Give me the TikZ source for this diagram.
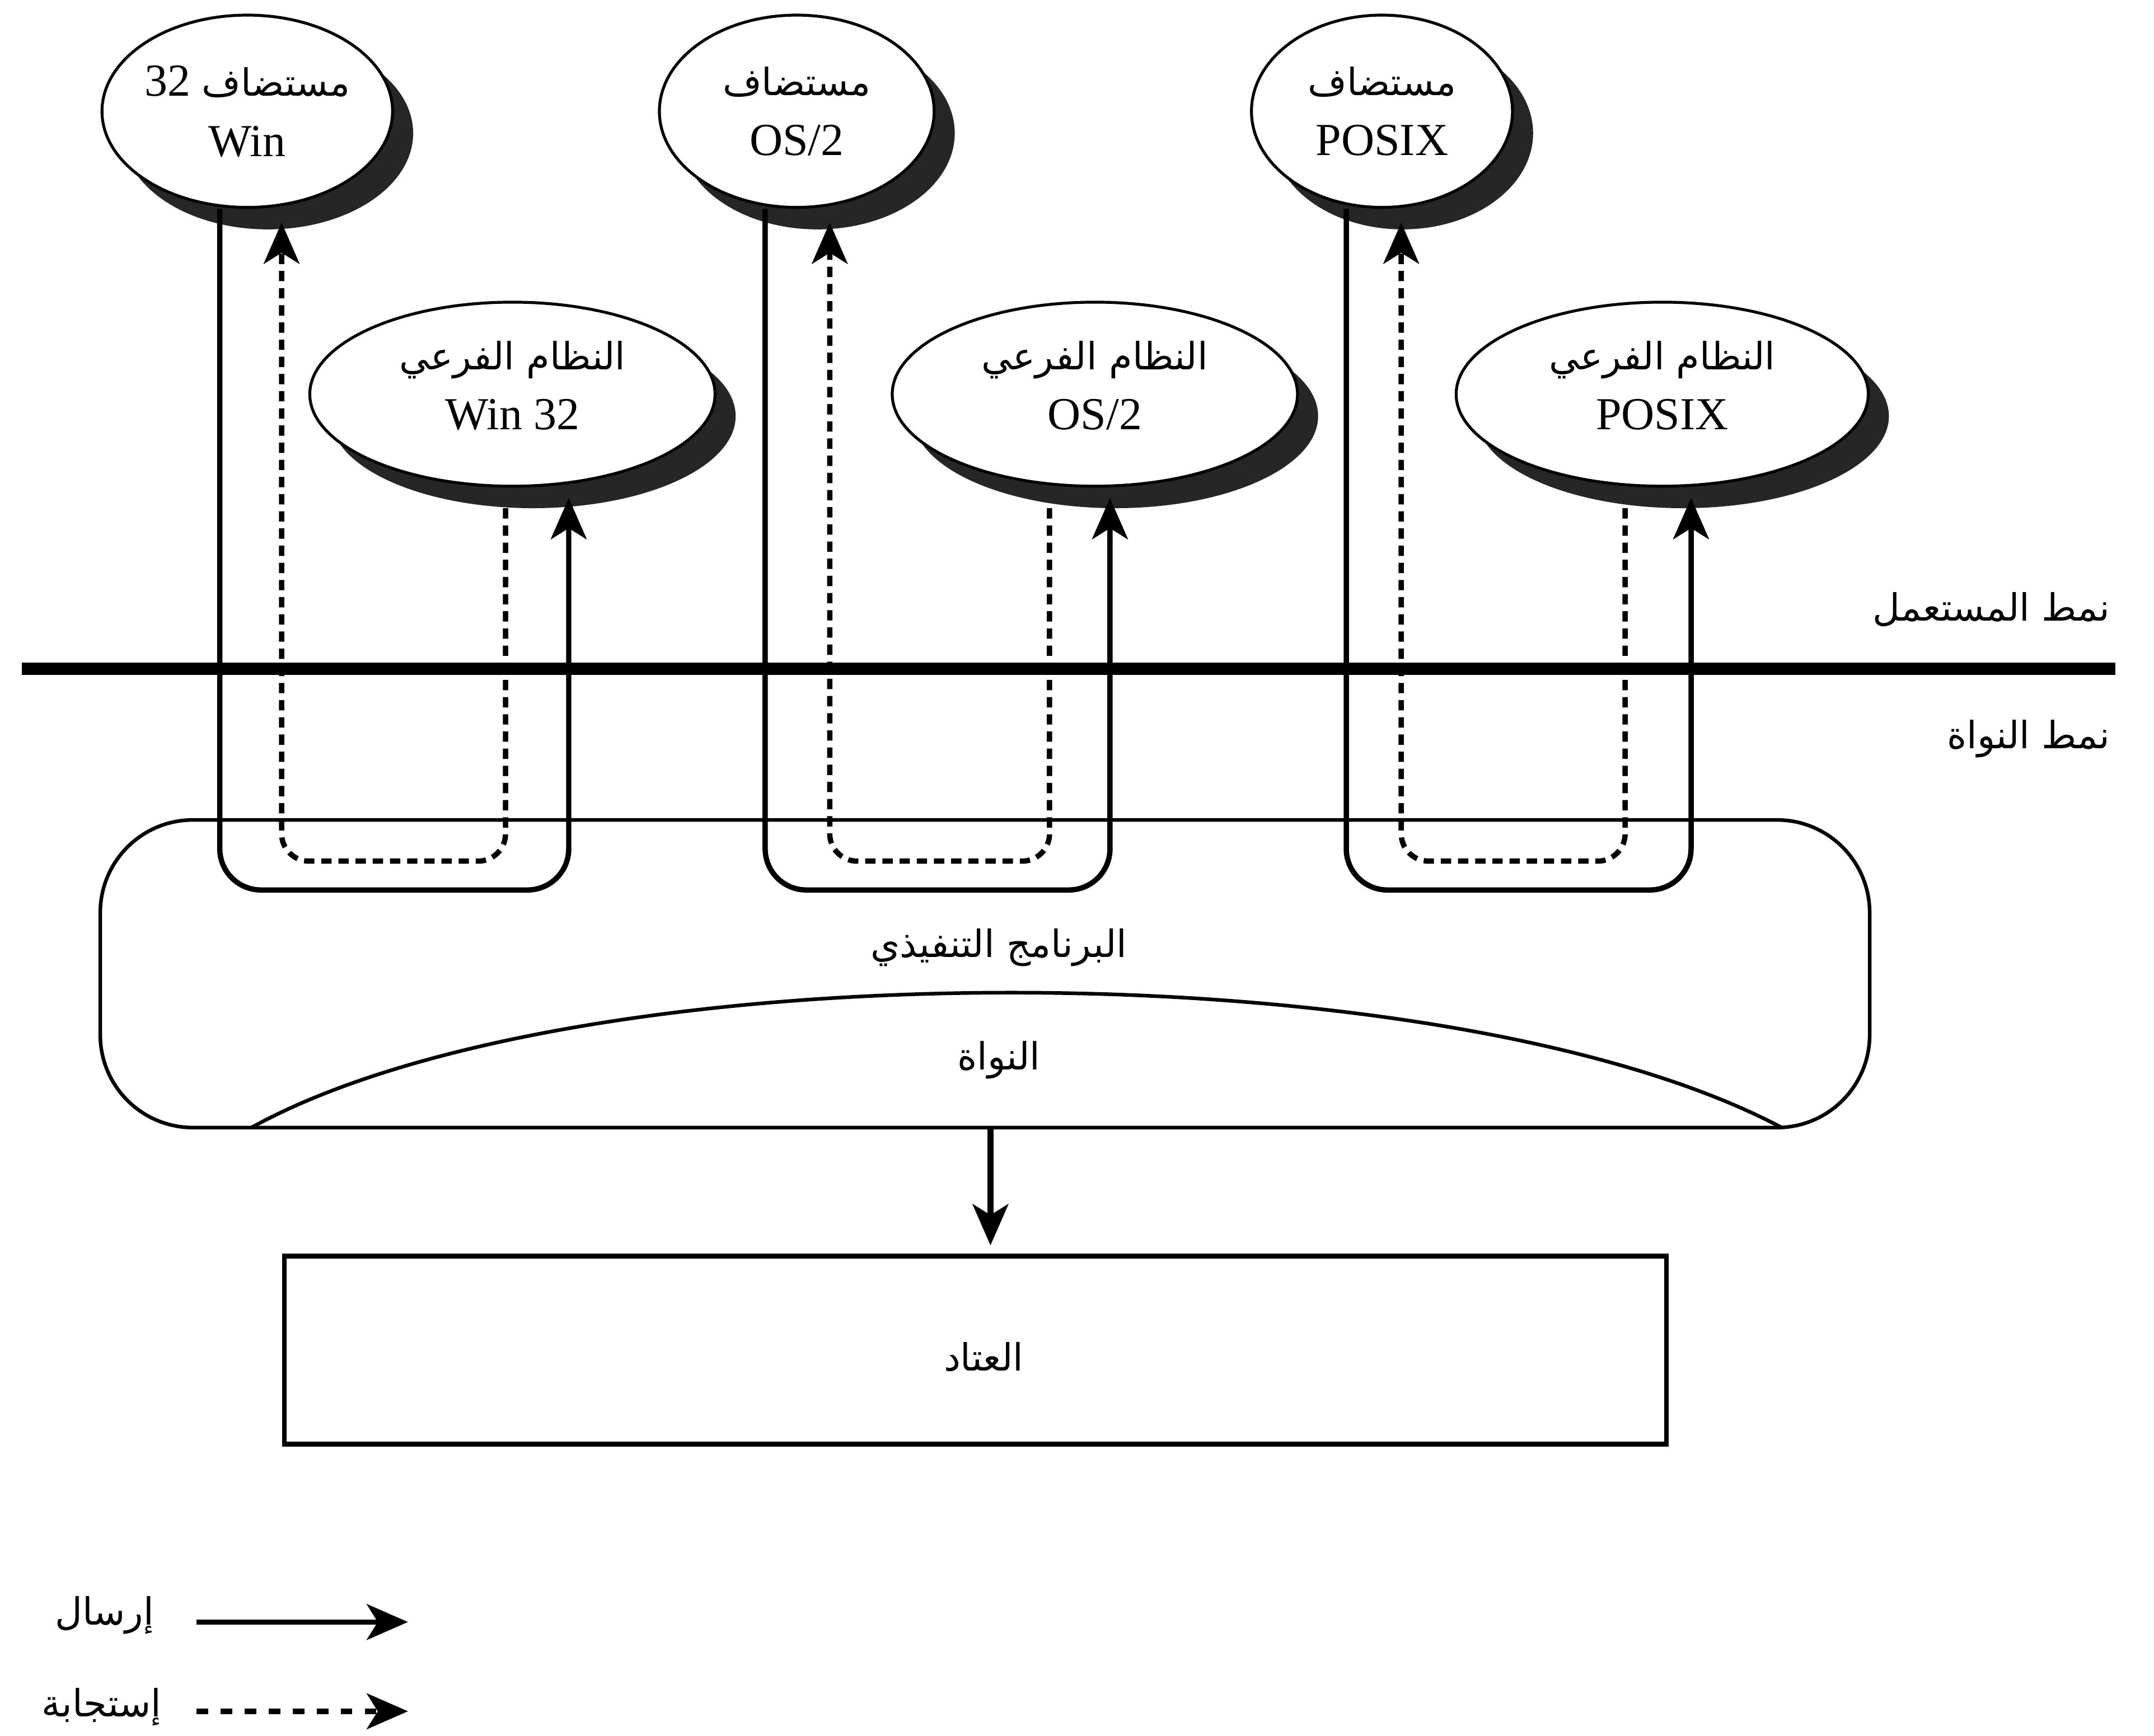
\documentclass[tikz,border=0pt]{standalone}
\usepackage{fontspec}
\setmainfont{Liberation Serif}
\newfontfamily\arabicfont[Script=Arabic,Scale=0.82]{DejaVu Sans}
\TeXXeTstate=1
\usepackage{tikz}
\usetikzlibrary{arrows.meta}
\usetikzlibrary{positioning}
\usetikzlibrary{shapes.geometric}
\usetikzlibrary{shadows}

\newcommand{\artxt}[1]{{\arabicfont\beginR #1\endR}}

\begin{document}
\begin{tikzpicture}[x=0.2mm,y=-0.2mm,>={Stealth[length=6mm,width=5.2mm,inset=1.6mm]},
                    font=\fontsize{19}{25}\selectfont,
                    host node/.style={ellipse,draw,line width=1.2pt,fill=white,inner sep=0pt,
                                      minimum width=40mm,minimum height=28mm,align=center,
                                      drop shadow={shadow xshift=3mm,shadow yshift=-3.2mm,fill=black!85,opacity=1}},
                    sub node/.style={host node,minimum width=59mm,minimum height=26.8mm,text depth=2.6mm},
                    send/.style={->,line width=2.2pt,rounded corners=6mm},
                    reply/.style={->,line width=2.2pt,dash pattern=on 1.5mm off 1mm,rounded corners=4mm}]

  \useasboundingbox (0,0) rectangle (1568,1264);

  \node[host node] (hostW) at (180,81) {32 \artxt{مستضاف}\\Win};
  \node[host node] (hostO) at (580,81) {\artxt{مستضاف}\\OS/2};
  \node[host node,minimum width=38mm] (hostP) at (1006,81) {\artxt{مستضاف}\\POSIX};

  \node[sub node] (subW) at (373,287) {\artxt{النظام الفرعي}\\Win 32};
  \node[sub node] (subO) at (797,287) {\artxt{النظام الفرعي}\\OS/2};
  \node[sub node,minimum width=60mm] (subP) at (1210,287) {\artxt{النظام الفرعي}\\POSIX};

  \draw[line width=1.8mm] (16,487) -- (1540,487);
  \node[anchor=base east] (userMode) at (1542,452) {\artxt{نمط المستعمل}};
  \node[anchor=base east] (kernelMode) at (1542,545) {\artxt{نمط النواة}};

  \node[draw,line width=1.5pt,rounded corners=13.5mm,minimum width=257.6mm,minimum height=44.8mm] (exec) at (717,709) {};
  \node (execLabel) at (727,690) {\artxt{البرنامج التنفيذي}};
  \draw[line width=1.5pt] (183,821) .. controls (420,690) and (1050,690) .. (1297,821);
  \node (kernel) at (727,772) {\artxt{النواة}};

  \node[draw,line width=2pt,minimum width=201.2mm,minimum height=27.4mm] (hw) at (710,983) {};
  \node (hwLabel) at (716,988) {\artxt{العتاد}};
  \draw[->,line width=2.4pt,shorten >=1.2mm] (exec.south -| 721,0) -- (hw.north -| 721,0);

  \coordinate (loopW) at (414,648);
  \coordinate (loopO) at (808,648);
  \coordinate (loopP) at (1231,648);
  \coordinate (backW) at (205,627);
  \coordinate (backO) at (604,627);
  \coordinate (backP) at (1020,627);

  \draw[send,shorten >=1.5mm] (hostW.south -| 160,0) |- (loopW) -- (subW.south -| loopW);
  \draw[send,shorten >=1.5mm] (hostO.south -| 557,0) |- (loopO) -- (subO.south -| loopO);
  \draw[send,shorten >=1.5mm] (hostP.south -| 980,0) |- (loopP) -- (subP.south -| loopP);

  \draw[reply,shorten <=3mm,shorten >=2mm] (subW.south -| 368,0) |- (backW) -- (hostW.south -| backW);
  \draw[reply,shorten <=3mm,shorten >=2mm] (subO.south -| 764,0) |- (backO) -- (hostO.south -| backO);
  \draw[reply,shorten <=3mm,shorten >=2mm] (subP.south -| 1183,0) |- (backP) -- (hostP.south -| backP);

  \node (sendLabel) at (76,1176) {\artxt{إرسال}};
  \coordinate (sendA) at (143,1181);
  \coordinate (sendB) at (297,1181);
  \draw[send] (sendA) -- (sendB);

  \node (replyLabel) at (74,1243) {\artxt{إستجابة}};
  \coordinate (replyA) at (143,1246);
  \coordinate (replyB) at (297,1246);
  \draw[reply,dash pattern=on 1.7mm off 1.8mm] (replyA) -- (replyB);
\end{tikzpicture}
\end{document}
